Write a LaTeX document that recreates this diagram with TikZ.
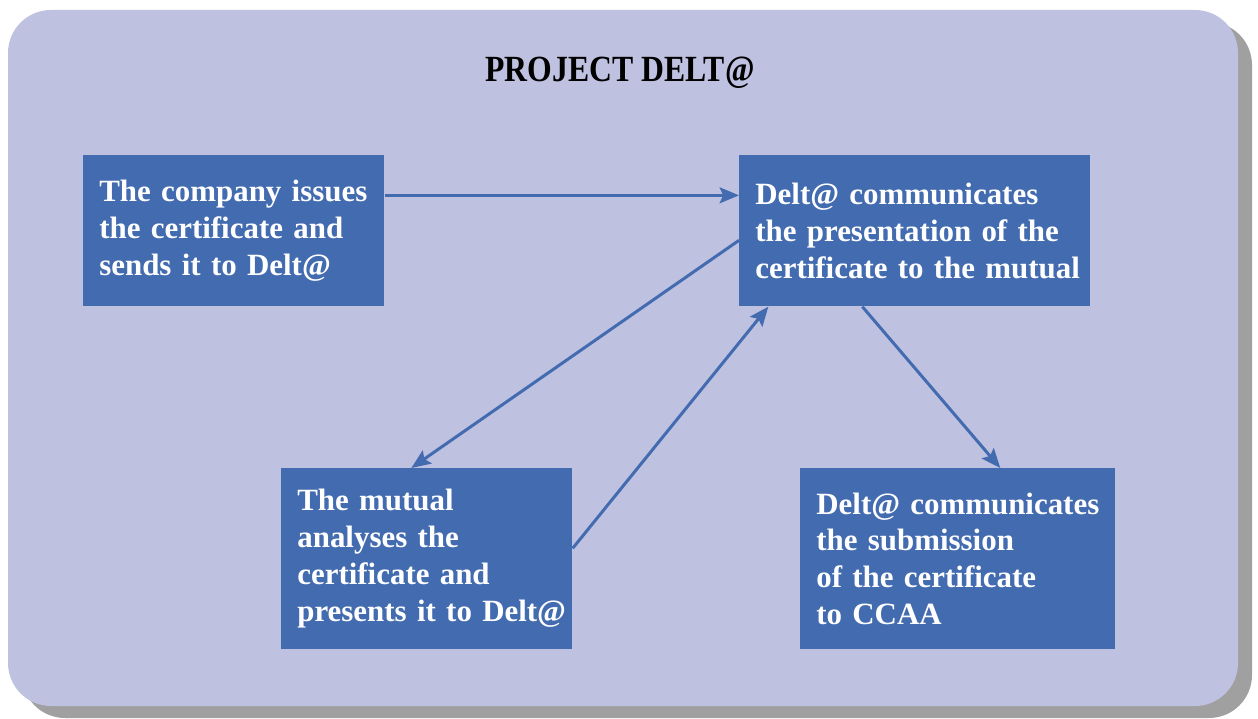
\documentclass[tikz,border=0pt]{standalone}
\usepackage{fontspec}
\setmainfont{Liberation Serif}
\usepackage{tikz}
\usetikzlibrary{arrows.meta,positioning}
\definecolor{panel}{RGB}{191,193,224}
\definecolor{boxblue}{RGB}{67,107,176}
\definecolor{shadowgrey}{RGB}{160,160,160}

\begin{document}
\begin{tikzpicture}[x=0.02cm,y=-0.02cm,
  stage/.style={fill=boxblue,text=white,font=\fontsize{17.6}{21}\selectfont\bfseries,anchor=north west,inner xsep=0pt,
    execute at begin node={\leftskip=0.32cm\rightskip=0pt plus 1fil minus 0.6cm\relax}},
  arr/.style={-{Stealth[length=11pt,width=9pt,inset=2pt]},line width=1.7pt,boxblue}]
\useasboundingbox (0,0) rectangle (1258,719);
\fill[shadowgrey,rounded corners=0.86cm] (22,22) rectangle (1252,718);
\fill[panel,rounded corners=0.86cm] (8,10) rectangle (1238,706);
\node[font=\fontsize{21}{24}\selectfont\bfseries,anchor=base] (title) at (620,82) {\scalebox{0.86}[1]{PROJECT DELT@}};
\node[stage,minimum height=3.02cm,text width=6.02cm] (b1) at (83,155)
 {The company issues\\the certificate and\\sends it to Delt@};
\node[stage,minimum height=3.02cm,text width=7.02cm] (b2) at (739,155)
 {Delt@ communicates\\the presentation of the\\certificate to the mutual};
\node[stage,minimum height=3.62cm,text width=5.82cm] (b3) at (281,468)
 {The mutual\\analyses the\\certificate and\\presents it to Delt@};
\node[stage,minimum height=3.62cm,text width=6.30cm] (b4) at (800,468)
 {Delt@ communicates\\the submission\\of the certificate\\to CCAA};
\draw[arr] ([yshift=0.71cm]b1.east) -- ([yshift=0.71cm]b2.west);
\draw[arr] ([yshift=-0.19cm]b2.west) -- ([xshift=-0.31cm]b3.north);
\draw[arr] ([yshift=0.21cm]b3.east) -- ([xshift=-2.93cm]b2.south);
\draw[arr] ([xshift=-1.05cm]b2.south) -- ([xshift=0.85cm]b4.north);
\end{tikzpicture}
\end{document}
